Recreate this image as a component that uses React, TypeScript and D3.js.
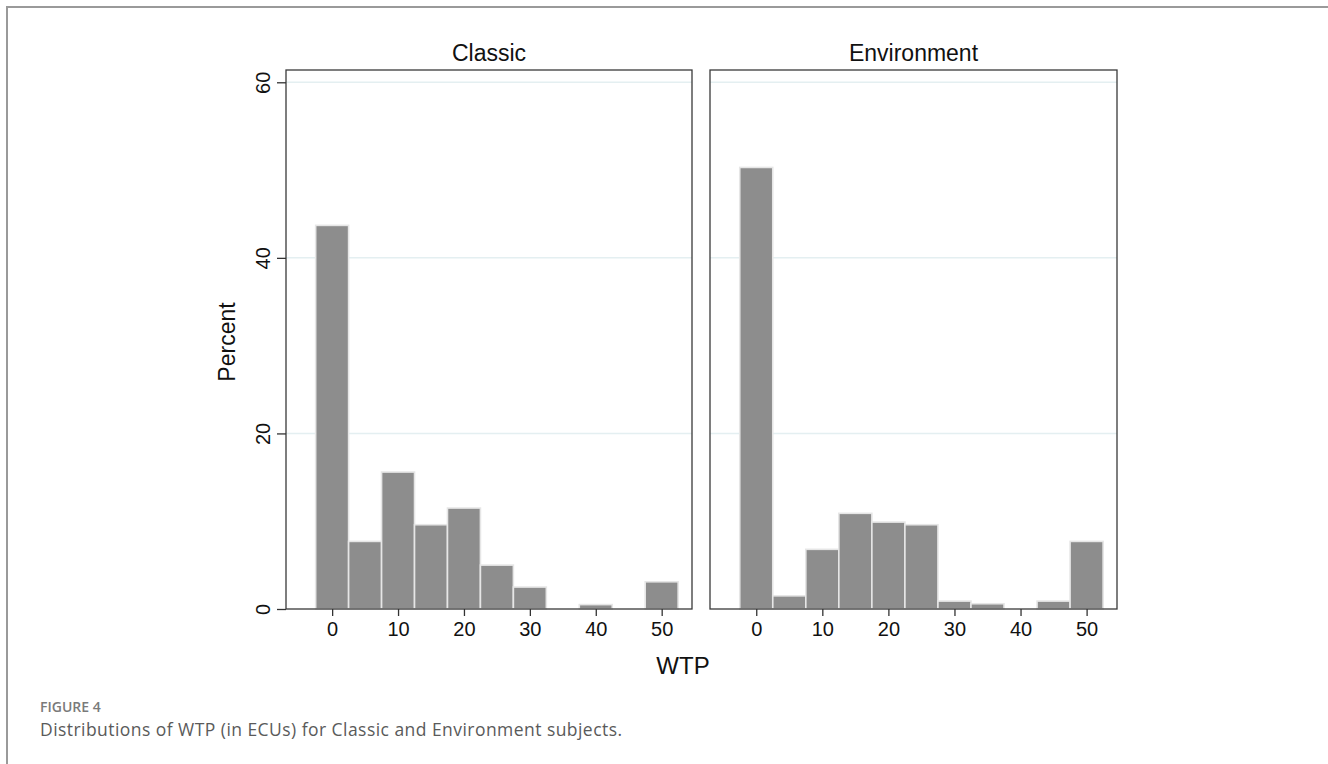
import { useEffect, useRef } from 'react';
import * as d3 from 'd3';

// histogram bins (width 5), centered on these WTP values
const binCenters = [0, 5, 10, 15, 20, 25, 30, 35, 40, 45, 50];
const classicPct = [43.7, 7.7, 15.6, 9.6, 11.5, 5.0, 2.5, 0, 0.5, 0, 3.1];
const environmentPct = [50.3, 1.5, 6.8, 10.9, 9.9, 9.6, 0.9, 0.6, 0, 0.9, 7.7];
const panelTitles = ['Classic', 'Environment'];
const xTicks = [0, 10, 20, 30, 40, 50];
const yTicks = [0, 20, 40, 60];

const App = () => {
  const svgRef = useRef(null);

  useEffect(() => {
    const svg = d3.select(svgRef.current);
    svg.selectAll('*').remove();

    const W = 1328, H = 764;
    svg.attr('width', W).attr('height', H);

    // outer figure frame (top + left only)
    svg.append('path')
      .attr('d', `M${W},7H7V${H}`)
      .attr('fill', 'none')
      .attr('stroke', '#9a9a9a')
      .attr('stroke-width', 2);

    const top = 70, bottom = 609;
    const yScale = d3.scaleLinear().domain([0, 61.4]).range([bottom, top]);

    const panels = [
      { title: panelTitles[0], data: classicPct, left: 286, right: 692 },
      { title: panelTitles[1], data: environmentPct, left: 710, right: 1117 },
    ];

    panels.forEach((p, pi) => {
      const xScale = d3.scaleLinear().domain([-7, 54.6]).range([p.left, p.right]);
      const g = svg.append('g');

      // gridlines
      g.selectAll('.grid')
        .data(yTicks.filter(t => t > 0))
        .enter()
        .append('line')
        .attr('x1', p.left)
        .attr('x2', p.right)
        .attr('y1', d => yScale(d))
        .attr('y2', d => yScale(d))
        .attr('stroke', '#e4eff1')
        .attr('stroke-width', 1.5);

      // bars
      g.selectAll('.bar')
        .data(p.data)
        .enter()
        .append('rect')
        .attr('x', (_, i) => xScale(binCenters[i] - 2.5))
        .attr('width', (_, i) => xScale(binCenters[i] + 2.5) - xScale(binCenters[i] - 2.5))
        .attr('y', d => yScale(d))
        .attr('height', d => bottom - yScale(d))
        .attr('fill', '#8d8d8d')
        .attr('stroke', '#e6e6e6')
        .attr('stroke-width', 1.6);

      // panel box
      g.append('rect')
        .attr('x', p.left)
        .attr('y', top)
        .attr('width', p.right - p.left)
        .attr('height', bottom - top)
        .attr('fill', 'none')
        .attr('stroke', '#3a3a3a')
        .attr('stroke-width', 1.3);

      // x axis
      const xAxis = g.append('g')
        .attr('transform', `translate(0,${bottom})`)
        .call(d3.axisBottom(xScale).tickValues(xTicks).tickSize(7).tickPadding(6).tickFormat(d3.format('d')));
      xAxis.select('.domain').remove();
      xAxis.selectAll('line').attr('stroke', '#333').attr('stroke-width', 1.3);
      xAxis.selectAll('text')
        .attr('font-family', 'Liberation Sans, Arial, sans-serif')
        .attr('font-size', 20)
        .attr('fill', '#111');

      // panel title
      g.append('text')
        .attr('x', (p.left + p.right) / 2)
        .attr('y', 61)
        .attr('text-anchor', 'middle')
        .attr('font-family', 'Liberation Sans, Arial, sans-serif')
        .attr('font-size', 23)
        .attr('fill', '#111')
        .text(p.title);

      // y axis on first panel only
      if (pi === 0) {
        const yAxis = g.append('g')
          .attr('transform', `translate(${p.left},0)`)
          .call(d3.axisLeft(yScale).tickValues(yTicks).tickSize(9).tickFormat(d3.format('d')));
        yAxis.select('.domain').remove();
        yAxis.selectAll('line').attr('stroke', '#333').attr('stroke-width', 1.3);
        yAxis.selectAll('text')
          .attr('font-family', 'Liberation Sans, Arial, sans-serif')
          .attr('font-size', 20)
          .attr('fill', '#111')
          .attr('text-anchor', 'middle')
          .attr('dy', 0)
          .attr('x', 0)
          .attr('transform', `translate(-16,0) rotate(-90)`);
      }
    });

    // axis titles
    svg.append('text')
      .attr('x', 683)
      .attr('y', 674)
      .attr('text-anchor', 'middle')
      .attr('font-family', 'Liberation Sans, Arial, sans-serif')
      .attr('font-size', 24)
      .attr('fill', '#111')
      .text('WTP');

    svg.append('text')
      .attr('transform', 'translate(235,342) rotate(-90)')
      .attr('text-anchor', 'middle')
      .attr('font-family', 'Liberation Sans, Arial, sans-serif')
      .attr('font-size', 23)
      .attr('fill', '#111')
      .text('Percent');

    // caption
    svg.append('text')
      .attr('x', 40)
      .attr('y', 712)
      .attr('font-family', 'Open Sans, sans-serif')
      .attr('font-size', 14)
      .attr('font-weight', 600)
      .attr('fill', '#7a7a7a')
      .text('FIGURE 4');

    svg.append('text')
      .attr('x', 40)
      .attr('y', 736)
      .attr('font-family', 'Open Sans, sans-serif')
      .attr('font-size', 17.5)
      .attr('letter-spacing', 0.45)
      .attr('fill', '#5a5a5a')
      .text('Distributions of WTP (in ECUs) for Classic and Environment subjects.');
  }, []);

  return (
    <svg ref={svgRef} style={{ position: 'absolute', left: 0, top: 0, display: 'block', background: '#fff' }}></svg>
  );
};

export default App;
